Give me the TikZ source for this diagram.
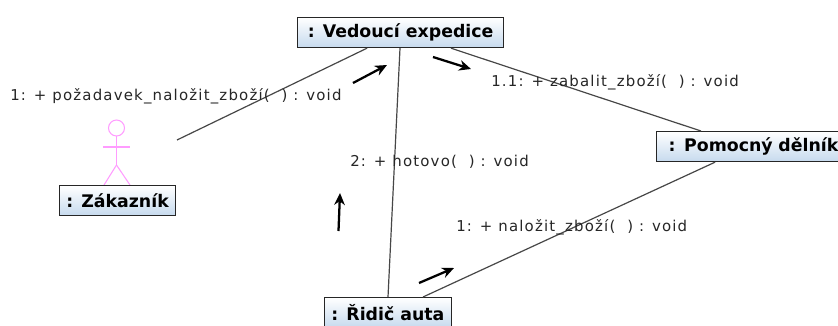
\documentclass[tikz,border=0pt]{standalone}
\usepackage{fontspec}
\setmainfont{DejaVu Sans}
\newfontfamily\msgfont[LetterSpace=8]{DejaVu Sans}
\usetikzlibrary{calc,arrows.meta}
\definecolor{boxblue}{HTML}{C6DAEE}
\definecolor{actorpink}{HTML}{FF9CFF}
\tikzset{
  objbox/.style={draw=black!85,line width=0.9pt,top color=white,bottom color=boxblue,
    inner sep=0pt,minimum height=22.5pt,anchor=north west,font=\bfseries\fontsize{13}{15}\selectfont,text=black},
  msg/.style={anchor=west,inner sep=0pt,font=\msgfont\fontsize{11.2}{13}\selectfont,text=black!85},
  link/.style={draw=black!72,line width=0.9pt},
  flow/.style={draw=black,line width=1.7pt,-{Stealth[length=9pt,width=8pt]}},
  actorline/.style={draw=actorpink,line width=0.8pt}
}
\begin{document}
\begin{tikzpicture}[x=0.75pt,y=-0.75pt]
\useasboundingbox (0,0) rectangle (838,325);
\clip (0,0) rectangle (838,325);
\fill[white] (0,0) rectangle (838,325);
% actor
\begin{scope}[actorline]
\draw (116.5,128) circle[radius=8];
\draw (116.5,136) -- (116.5,165);
\draw (103,147) -- (130,147);
\draw (116.5,165) -- (104,185);
\draw (116.5,165) -- (130,185);
\end{scope}
% objects
\node[objbox,minimum width=154.5pt] (ved) at (297,17) {: Vedoucí expedice};
\node[objbox,minimum width=87pt] (zak) at (59,185) {: Zákazník};
\node[objbox,minimum width=144pt,text width=144pt,align=left] (pom) at (656,131) {\hspace*{9pt}: Pomocný dělník};
\node[objbox,minimum width=95pt] (rid) at (324,297) {: Řidič auta};
% free ends
\coordinate (zakend) at (177,140);
\coordinate (a1s) at (353,83);
\coordinate (a1e) at (387,65);
\coordinate (a2s) at (433,57);
\coordinate (a2e) at (471,69);
\coordinate (a3s) at (338.5,231);
\coordinate (a3e) at (340,193);
\coordinate (a4s) at (419,283);
\coordinate (a4e) at (454,268);
% links
\draw[link] ($(ved.south west)+(70,0)$) -- (zakend);
\draw[link] ($(ved.south west)+(103,0)$) -- ($(rid.north west)+(64,0)$);
\draw[link] ($(ved.south west)+(154,0)$) -- ($(pom.north west)+(45,0)$);
\draw[link] ($(pom.south west)+(59,0)$) -- ($(rid.north west)+(99,0)$);
% message arrows
\draw[flow] (a1s) -- (a1e);
\draw[flow] (a2s) -- (a2e);
\draw[flow] (a3s) -- (a3e);
\draw[flow] (a4s) -- (a4e);
% labels
\node[msg] (m1) at (10,96) {1: + požadavek\_naložit\_zboží(~~) : void};
\node[msg] (m2) at (491,82) {1.1: + zabalit\_zboží(~~) : void};
\node[msg] (m3) at (350,162) {2: + hotovo(~~) : void};
\node[msg] (m4) at (456,227) {1: + naložit\_zboží(~~) : void};
\end{tikzpicture}
\end{document}
